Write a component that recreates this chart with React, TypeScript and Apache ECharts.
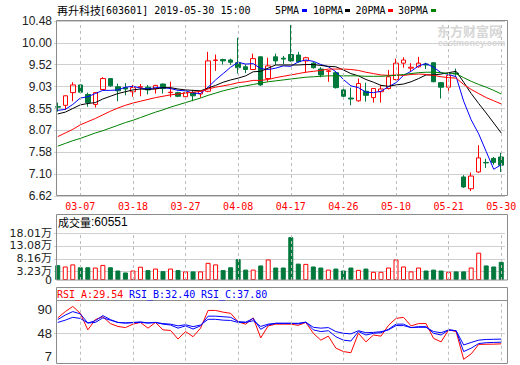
import React, { useEffect, useRef } from 'react';
import * as echarts from 'echarts';

const dates = ['03-04','03-05','03-06','03-07','03-08','03-11','03-12','03-13','03-14','03-15',
  '03-18','03-19','03-20','03-21','03-22','03-25','03-26','03-27','03-28','03-29',
  '04-01','04-02','04-03','04-04','04-08','04-09','04-10','04-11','04-12','04-15',
  '04-16','04-17','04-18','04-19','04-22','04-23','04-24','04-25','04-26','04-29',
  '04-30','05-06','05-07','05-08','05-09','05-10','05-13','05-14','05-15','05-16',
  '05-17','05-20','05-21','05-22','05-23','05-24','05-27','05-28','05-29','05-30'];

const openPrices = [8.59,8.62,8.90,9.07,8.86,8.64,8.97,9.21,9.03,9.01,
  8.92,9.02,9.02,8.99,9.09,8.90,8.90,8.81,8.90,8.87,
  8.93,9.61,9.63,9.62,9.56,9.47,9.41,9.69,9.21,9.69,
  9.66,9.74,9.73,9.60,9.55,9.42,9.37,9.34,8.96,8.78,
  8.72,8.93,8.79,8.92,8.99,9.19,9.55,9.44,9.47,9.53,
  9.56,9.12,9.02,9.33,7.04,6.78,7.15,7.36,7.45,7.48];
const closePrices = [8.58,8.83,9.07,8.91,8.68,8.90,9.21,9.05,8.94,8.98,
  9.01,9.03,8.96,9.06,8.99,8.91,8.82,8.90,8.83,8.93,
  9.60,9.62,9.60,9.57,9.45,9.41,9.65,9.07,9.49,9.60,
  9.64,9.60,9.58,9.67,9.45,9.29,9.38,9.01,8.82,8.76,
  9.10,8.84,8.99,8.98,9.25,9.55,9.62,9.46,9.55,9.51,
  9.14,9.02,9.28,9.31,6.82,7.06,7.46,7.35,7.36,7.30];
const lowPrices = [8.48,8.52,8.71,8.88,8.59,8.57,8.95,9.03,8.71,8.84,
  8.81,8.82,8.86,8.88,8.88,8.80,8.80,8.76,8.71,8.79,
  8.91,9.38,9.52,9.51,9.32,9.33,9.40,9.05,9.14,9.51,
  9.53,9.58,9.56,9.34,9.43,9.24,9.14,8.99,8.79,8.62,
  8.70,8.70,8.68,8.68,8.97,9.17,9.45,9.36,9.45,9.42,
  9.13,8.77,8.94,9.27,6.80,6.73,7.13,7.24,7.31,7.15];
const highPrices = [8.68,8.84,9.13,9.08,8.90,8.91,9.24,9.22,9.10,9.11,
  9.07,9.09,9.07,9.07,9.10,9.14,8.92,8.91,8.96,8.94,
  9.80,9.74,9.65,9.65,10.11,9.52,9.76,9.70,9.67,9.76,
  9.71,10.39,9.80,9.69,9.58,9.46,9.40,9.37,8.99,9.01,
  9.21,9.12,9.00,9.07,9.40,9.65,9.68,9.55,9.69,9.56,
  9.57,9.13,9.30,9.43,7.08,7.14,7.74,7.44,7.48,7.57];

const ma5 = [8.51,8.53,8.64,8.78,8.81,8.88,8.95,8.95,8.96,9.02,
  9.04,9.00,8.98,9.01,9.01,8.99,8.95,8.94,8.89,8.88,
  9.02,9.18,9.32,9.46,9.57,9.53,9.54,9.43,9.41,9.44,
  9.49,9.48,9.58,9.62,9.59,9.52,9.47,9.36,9.19,9.05,
  9.01,8.91,8.90,8.93,9.03,9.12,9.28,9.37,9.49,9.54,
  9.46,9.34,9.30,9.25,8.71,8.30,7.99,7.60,7.21,7.31];
const ma10 = [8.43,8.47,8.55,8.63,8.66,8.68,8.76,8.82,8.88,8.92,
  8.96,8.98,8.97,8.98,9.01,9.01,8.98,8.96,8.95,8.94,
  9.00,9.06,9.13,9.18,9.22,9.27,9.36,9.37,9.44,9.51,
  9.51,9.51,9.51,9.52,9.52,9.50,9.48,9.47,9.40,9.32,
  9.27,9.19,9.13,9.06,9.04,9.07,9.09,9.14,9.21,9.29,
  9.29,9.31,9.34,9.37,9.13,8.88,8.66,8.45,8.23,8.01];
const ma20 = [7.93,8.01,8.09,8.19,8.26,8.33,8.41,8.49,8.56,8.62,
  8.67,8.71,8.75,8.79,8.82,8.85,8.87,8.89,8.91,8.93,
  8.98,9.02,9.05,9.08,9.12,9.14,9.17,9.17,9.19,9.23,
  9.26,9.29,9.32,9.35,9.37,9.39,9.42,9.42,9.42,9.41,
  9.39,9.35,9.32,9.29,9.28,9.29,9.28,9.30,9.31,9.30,
  9.28,9.25,9.23,9.22,9.08,8.97,8.88,8.79,8.72,8.65];
const ma30 = [7.72,7.78,7.84,7.89,7.95,8.01,8.06,8.12,8.18,8.24,
  8.29,8.35,8.41,8.47,8.52,8.58,8.63,8.68,8.73,8.78,
  8.84,8.89,8.94,8.98,9.02,9.05,9.08,9.11,9.14,9.16,
  9.18,9.20,9.22,9.24,9.25,9.26,9.27,9.27,9.27,9.27,
  9.27,9.26,9.26,9.26,9.27,9.28,9.30,9.32,9.34,9.35,
  9.35,9.34,9.32,9.32,9.23,9.15,9.08,9.02,8.95,8.87];

// volume in 万
const volumes = [5.7,5.2,6.0,4.9,4.9,4.8,5.8,4.9,3.65,2.9,
  3.65,5.1,3.8,4.4,3.4,4.4,3.8,3.3,3.3,3.3,
  6.6,6.0,3.8,4.9,8.0,4.0,4.0,5.6,7.9,4.8,
  4.8,16.5,6.3,6.2,5.2,4.8,4.0,4.4,3.65,4.8,
  3.9,4.4,3.15,3.15,4.8,7.9,5.2,3.3,4.8,3.65,
  4.0,3.65,3.15,3.3,3.3,4.8,10.5,5.6,5.2,7.0];

const rsiA = [75,86,95,83,54,72,77,65,60,58,
  64,67,57,67,54,53,38,51,42,57,
  88,88,85,83,68,64,75,40,61,64,
  64,64,62,67,48,36,43,22,16,14,
  48,33,45,43,62,74,76,61,65,65,
  39,33,54,51,2.5,12,28.5,28.8,29.0,29.54];
const rsiB = [72,80,86,82,66,70,79,72,67,66,
  67,68,66,67,64,62.5,57,61,55.5,61,
  78,78,77,76,68.5,67.5,74,55,62.5,65.5,
  65.5,65.5,64.5,67.5,54,51,52.5,42,36,34.5,
  51,45,48,49,55,64,64,58,59.6,59.6,
  48,45,54,52.5,16,22,30,31.5,32,32.4];
const rsiC = [67,71,76,74,66,67,75,71,67,66,
  66.5,67,66,67,65,64,61,63,59.6,62.5,
  72.5,72.5,71,70.5,67,67,70,60,64,65.5,
  65.5,65.5,65.5,67.5,58.5,57,58,51,48,47,
  52.5,49,49.6,50.8,54,61.5,61.5,58,58.5,58.5,
  51,49,54,52.5,27.5,32,36,37.2,37.5,37.8];

const priceTicks = [6.62, 7.10, 7.58, 8.07, 8.55, 9.03, 9.52, 10.00, 10.48];
const volumeTicks = [3.23, 8.16, 13.08, 18.01];
const volumeZero = [0];
const rsiTicks = [7, 48, 90];
const dateLabelIdx = [3, 10, 17, 24, 31, 38, 45, 52, 59];

const RED = '#ff0000';
const GREEN = '#00783c';
const BLUE = '#0000ff';
const FRAME = '#8c8c8c';
const GRIDC = '#cfcfcf';
const MONO = '"DejaVu Sans Mono", "Liberation Mono", monospace';
const SANS = '"Liberation Sans", Arial, sans-serif';
const WIDE = '"DejaVu Sans", "Noto Sans CJK SC", sans-serif';
const CJK = '"Noto Sans CJK SC", sans-serif';

export default function App() {
  const ref = useRef<HTMLDivElement>(null);
  useEffect(() => {
    const chart = echarts.init(ref.current!, null, { renderer: 'svg' });
    const vLines = {
      silent: true,
      symbol: ['none', 'none'],
      label: { show: false },
      emphasis: { disabled: true },
      lineStyle: { color: '#bdbdbd', type: [3, 3], width: 1 },
      data: dateLabelIdx.map((i) => ({ xAxis: dates[i] })),
    };
    const xAxisFor = (gridIndex: number, showLabel: boolean) => ({
      type: 'category',
      gridIndex,
      data: dates,
      boundaryGap: true,
      axisLine: { show: false },
      axisTick: { show: false },
      splitLine: { show: false },
      axisLabel: showLabel
        ? {
            show: true,
            interval: (idx: number) => dateLabelIdx.includes(idx),
            color: RED,
            fontFamily: MONO,
            fontSize: 10,
            margin: 5,
          }
        : { show: false },
    });
    const maLine = (data: number[], color: string) => ({
      type: 'line',
      xAxisIndex: 0,
      yAxisIndex: 0,
      data,
      symbol: 'none',
      color,
      lineStyle: { color, width: 1 },
      z: 4,
    });
    const rsiLine = (data: number[], color: string, withLines: boolean) => ({
      type: 'line',
      xAxisIndex: 2,
      yAxisIndex: 2,
      data,
      symbol: 'none',
      color,
      lineStyle: { color, width: 1 },
      ...(withLines ? { markLine: vLines } : {}),
    });

    const option: any = {
      animation: false,
      backgroundColor: '#ffffff',
      grid: [
        { left: 54, top: 21, width: 451, height: 175 },
        { left: 54, top: 232, width: 451, height: 48 },
        { left: 54, top: 303.6, width: 451, height: 57.1 },
      ],
      xAxis: [xAxisFor(0, true), xAxisFor(1, false), xAxisFor(2, false)],
      yAxis: [
        {
          type: 'value', gridIndex: 0, position: 'left', min: 6.62, max: 10.48,
          axisLine: { show: false },
          axisTick: { show: false, customValues: priceTicks },
          axisLabel: {
            customValues: priceTicks,
            formatter: (v: number) => v.toFixed(2),
            color: '#222', fontFamily: SANS, fontSize: 12, margin: 2,
            showMinLabel: true, showMaxLabel: true,
          },
          splitLine: { show: true, lineStyle: { color: GRIDC, width: 1 } },
        },
        {
          type: 'value', gridIndex: 1, position: 'left', offset: 0, min: 0, max: 18.46,
          axisLine: { show: false },
          axisTick: { show: false, customValues: volumeTicks },
          axisLabel: {
            customValues: volumeTicks,
            formatter: (v: number) => v.toFixed(2) + '万',
            color: '#222', fontFamily: WIDE, fontSize: 11, margin: 2,
            showMinLabel: true, showMaxLabel: true,
          },
          splitLine: { show: true, lineStyle: { color: GRIDC, width: 1 } },
        },
        {
          type: 'value', gridIndex: 2, position: 'left', min: 0, max: 100,
          axisLine: { show: false },
          axisTick: { show: false, customValues: [48] },
          axisLabel: {
            customValues: rsiTicks,
            formatter: (v: number) => String(v),
            color: '#222', fontFamily: SANS, fontSize: 13, margin: 2,
            showMinLabel: true, showMaxLabel: true,
          },
          splitLine: { show: true, lineStyle: { color: GRIDC, width: 1 } },
        },
        {
          type: 'value', gridIndex: 1, position: 'left', offset: 0, min: 0, max: 18.46,
          axisLine: { show: false, onZero: false },
          axisTick: { show: false, customValues: volumeZero },
          axisLabel: {
            customValues: volumeZero,
            formatter: () => '0',
            color: '#222', fontFamily: WIDE, fontSize: 11, margin: 2,
            showMinLabel: true,
          },
          splitLine: { show: false },
        },
      ],
      series: [
        {
          type: 'candlestick',
          xAxisIndex: 0,
          yAxisIndex: 0,
          barWidth: 5,
          data: dates.map((_, i) => [openPrices[i], closePrices[i], lowPrices[i], highPrices[i]]),
          itemStyle: {
            color: 'rgba(255,255,255,0)',
            color0: GREEN,
            borderColor: RED,
            borderColor0: GREEN,
            borderWidth: 1,
          },
          markLine: vLines,
          z: 3,
        },
        maLine(ma5, BLUE),
        maLine(ma10, '#000000'),
        maLine(ma20, RED),
        maLine(ma30, '#008000'),
        {
          type: 'bar',
          xAxisIndex: 1,
          yAxisIndex: 1,
          barWidth: 5,
          data: volumes.map((v, i) => ({
            value: v,
            itemStyle: closePrices[i] >= openPrices[i]
              ? { color: '#ffffff', borderColor: RED, borderWidth: 1 }
              : { color: GREEN, borderColor: GREEN, borderWidth: 1 },
          })),
          markLine: vLines,
        },
        rsiLine(rsiA, RED, true),
        rsiLine(rsiB, BLUE, false),
        rsiLine(rsiC, BLUE, false),
      ],
      graphic: [
        // frames
        { type: 'rect', silent: true, z: 10, shape: { x: 56.5, y: 20.5, width: 451, height: 175 }, style: { fill: 'none', stroke: FRAME, lineWidth: 1 } },
        { type: 'rect', silent: true, z: 10, shape: { x: 56.5, y: 214.5, width: 451, height: 65.5 }, style: { fill: 'none', stroke: FRAME, lineWidth: 1 } },
        { type: 'rect', silent: true, z: 10, shape: { x: 56.5, y: 287.5, width: 451, height: 76 }, style: { fill: 'none', stroke: FRAME, lineWidth: 1 } },
        { type: 'line', silent: true, z: 10, shape: { x1: 56.5, y1: 300.5, x2: 507.5, y2: 300.5 }, style: { stroke: FRAME, lineWidth: 1 } },
        // header
        { type: 'text', silent: true, z: 11, style: { x: 57, y: 10, text: '再升科技', fill: '#000', fontSize: 11, fontFamily: CJK, verticalAlign: 'middle' } },
        { type: 'text', silent: true, z: 11, style: { x: 100, y: 10, text: '[603601] 2019-05-30 15:00', fill: '#000', fontSize: 10, fontFamily: MONO, verticalAlign: 'middle' } },
        // legend
        { type: 'text', silent: true, z: 11, style: { x: 275, y: 10, text: '5PMA', fill: '#000', fontSize: 10, fontFamily: MONO, verticalAlign: 'middle' } },
        { type: 'rect', silent: true, z: 11, shape: { x: 302, y: 9, width: 5, height: 3 }, style: { fill: BLUE } },
        { type: 'text', silent: true, z: 11, style: { x: 313, y: 10, text: '10PMA', fill: '#000', fontSize: 10, fontFamily: MONO, verticalAlign: 'middle' } },
        { type: 'rect', silent: true, z: 11, shape: { x: 345, y: 9, width: 5, height: 3 }, style: { fill: '#000' } },
        { type: 'text', silent: true, z: 11, style: { x: 355.5, y: 10, text: '20PMA', fill: '#000', fontSize: 10, fontFamily: MONO, verticalAlign: 'middle' } },
        { type: 'rect', silent: true, z: 11, shape: { x: 388, y: 9, width: 5, height: 3 }, style: { fill: RED } },
        { type: 'text', silent: true, z: 11, style: { x: 398, y: 10, text: '30PMA', fill: '#000', fontSize: 10, fontFamily: MONO, verticalAlign: 'middle' } },
        { type: 'rect', silent: true, z: 11, shape: { x: 431, y: 9, width: 5, height: 3 }, style: { fill: '#008000' } },
        // watermark
        { type: 'text', silent: true, z: 1, style: { x: 437, y: 30, text: '东方财富网', fill: '#d6d6d6', fontSize: 13, fontWeight: 'bold', fontFamily: CJK, verticalAlign: 'middle' } },
        { type: 'text', silent: true, z: 1, style: { x: 438, y: 43, text: 'eastmoney.com', fill: '#d6d6d6', fontSize: 9, fontWeight: 'bold', fontFamily: SANS, verticalAlign: 'middle' } },
        // volume title
        {
          type: 'text', silent: true, z: 11,
          style: {
            x: 58, y: 222, verticalAlign: 'middle',
            text: '{a|成交量}{b|:60551}',
            rich: {
              a: { fontSize: 11, fontFamily: CJK, fill: '#000' },
              b: { fontSize: 12, fontFamily: SANS, fill: '#000' },
            },
          },
        },
        // RSI title
        { type: 'text', silent: true, z: 11, style: { x: 57, y: 294, text: 'RSI_A:29.54', fill: RED, fontSize: 10, fontFamily: MONO, verticalAlign: 'middle' } },
        { type: 'text', silent: true, z: 11, style: { x: 129, y: 294, text: 'RSI_B:32.40', fill: BLUE, fontSize: 10, fontFamily: MONO, verticalAlign: 'middle' } },
        { type: 'text', silent: true, z: 11, style: { x: 201, y: 294, text: 'RSI_C:37.80', fill: BLUE, fontSize: 10, fontFamily: MONO, verticalAlign: 'middle' } },
      ],
    };
    chart.setOption(option);
    return () => chart.dispose();
  }, []);
  return <div ref={ref} style={{ position: 'absolute', left: 0, top: 0, width: 520, height: 365 }} />;
}
